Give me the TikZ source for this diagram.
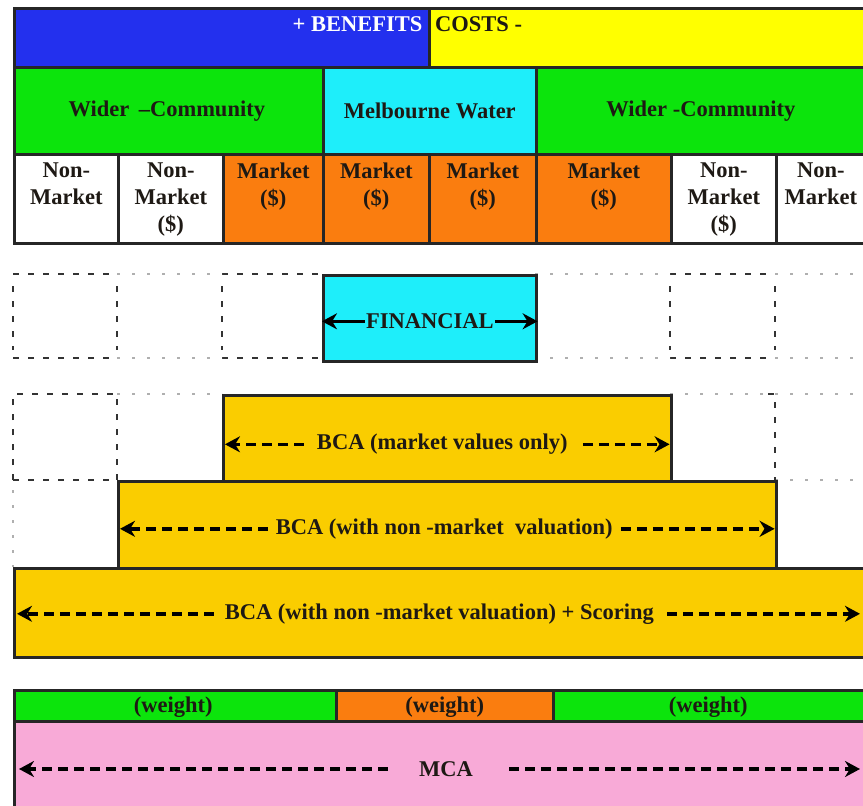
\documentclass[tikz,border=0pt]{standalone}
\usepackage{fontspec}
\setmainfont{Liberation Serif}
\usetikzlibrary{arrows.meta}
\definecolor{cblue}{RGB}{35,48,238}
\definecolor{cyellow}{RGB}{255,255,0}
\definecolor{cgreen}{RGB}{12,228,12}
\definecolor{ccyan}{RGB}{30,238,250}
\definecolor{corange}{RGB}{250,125,15}
\definecolor{cgold}{RGB}{250,205,0}
\definecolor{cpink}{RGB}{248,170,215}
\definecolor{ctext}{RGB}{30,25,20}
\definecolor{clight}{RGB}{175,175,175}
\tikzset{
  box/.style={draw=black!85, line width=2.6pt, inner sep=0pt, anchor=north west},
  lbl/.style={font=\bfseries\fontsize{22.5}{27}\selectfont, text=ctext, inner sep=1pt, align=center},
  darkdash/.style={draw=black!80, line width=2.4pt, dash pattern=on 6pt off 9pt},
  lightdash/.style={draw=clight, line width=2.2pt, dash pattern=on 3pt off 12pt},
  arr/.style={draw=black, line width=3.6pt, dash pattern=on 10pt off 6pt, -{Stealth[length=15pt,width=16pt]}},
  sarr/.style={draw=black, line width=3.6pt, -{Stealth[length=15pt,width=16pt]}},
}
\newcommand{\bx}[6]{\node[box, fill=#2, minimum width=#5pt-#3pt, minimum height=#6pt] (#1) at (#3,#4) {};}
\begin{document}
\begin{tikzpicture}[x=1pt,y=-1pt]
\useasboundingbox (0,0) rectangle (863,806);
\clip (0,0) rectangle (863,806);
\fill[white] (0,0) rectangle (863,806);
% row 1
\bx{benefits}{cblue}{13}{7}{428}{59}
\bx{costs}{cyellow}{428}{7}{870}{59}
\node[lbl, text=white, anchor=north east] (tben) at ([xshift=-7pt,yshift=-8pt]benefits.north east) {+ BENEFITS};
\node[lbl, anchor=north west] (tcost) at ([xshift=6pt,yshift=-8pt]costs.north west) {COSTS -};
% row 2
\bx{wc1}{cgreen}{13}{66}{322}{87}
\bx{mw}{ccyan}{322}{66}{535}{87}
\bx{wc2}{cgreen}{535}{66}{870}{87}
\node[lbl] (twc1) at ([xshift=-2pt]wc1) {Wider \,--Community};
\node[lbl] (tmw) at (mw) {Melbourne Water};
\node[lbl] (twc2) at ([xshift=-3pt]wc2) {Wider -Community};
% row 3
\bx{c1}{white}{13}{153}{117}{89}
\bx{c2}{white}{117}{153}{222}{89}
\bx{c3}{corange}{222}{153}{322}{89}
\bx{c4}{corange}{322}{153}{428}{89}
\bx{c5}{corange}{428}{153}{535}{89}
\bx{c6}{corange}{535}{153}{670}{89}
\bx{c7}{white}{670}{153}{775}{89}
\bx{c8}{white}{775}{153}{870}{89}
\node[lbl, anchor=north] (t1) at ([yshift=-9pt]c1.north) {Non-\\Market};
\node[lbl, anchor=north] (t2) at ([yshift=-9pt]c2.north) {Non-\\Market\\(\$)};
\node[lbl, anchor=north] (t3) at ([yshift=-9pt]c3.north) {Market\\(\$)};
\node[lbl, anchor=north] (t4) at ([yshift=-9pt]c4.north) {Market\\(\$)};
\node[lbl, anchor=north] (t5) at ([yshift=-9pt]c5.north) {Market\\(\$)};
\node[lbl, anchor=north] (t6) at ([yshift=-9pt]c6.north) {Market\\(\$)};
\node[lbl, anchor=north] (t7) at ([yshift=-9pt]c7.north) {Non-\\Market\\(\$)};
\node[lbl, anchor=north] (t8) at ([yshift=-9pt,xshift=-3pt]c8.north) {Non-\\Market};
% financial row guides
\draw[darkdash] (13,274) -- (117,274) (222,274) -- (322,274) (670,274) -- (775,274);
\draw[darkdash] (13,358) -- (117,358) (222,358) -- (322,358) (670,358) -- (775,358);
\draw[lightdash] (117,274) -- (222,274) (535,274) -- (670,274) (775,274) -- (863,274);
\draw[lightdash] (117,358) -- (222,358) (535,358) -- (670,358) (775,358) -- (863,358);
\draw[darkdash] (13,286) -- (13,350) (117,286) -- (117,350) (222,286) -- (222,350) (670,286) -- (670,350) (775,286) -- (775,350);
\bx{fin}{ccyan}{322}{274}{535}{86}
\node[lbl] (tfin) at ([yshift=-3pt]fin) {FINANCIAL};
\draw[sarr] (tfin.west) -- (fin.west |- tfin.west);
\draw[sarr] (tfin.east) -- (fin.east |- tfin.east);
% BCA market row guides
\draw[darkdash] (13,480) -- (13,394) -- (117,394) -- (117,480);
\draw[darkdash] (13,480) -- (117,480);
\draw[lightdash] (117,394) -- (222,394) (670,394) -- (775,394) (775,394) -- (863,394) (775,480) -- (863,480);
\draw[darkdash] (768,394) -- (775,394) -- (775,480);
\draw[lightdash] (13,490) -- (13,567);
% BCA boxes
\bx{bcam}{cgold}{222}{394}{670}{86}
\node[lbl] (tbcam) at ([xshift=-5pt,yshift=-6pt]bcam) {BCA (market values only)};
\draw[arr] ([xshift=-12pt]tbcam.west) -- ([xshift=3pt]bcam.west |- tbcam.west);
\draw[arr] ([xshift=14pt]tbcam.east) -- ([xshift=-3pt]bcam.east |- tbcam.east);
\bx{bcan}{cgold}{117}{480}{775}{87}
\node[lbl] (tbcan) at ([xshift=-3pt,yshift=-4pt]bcan) {BCA (with non -market \ valuation)};
\draw[arr] ([xshift=-7pt]tbcan.west) -- ([xshift=3pt]bcan.west |- tbcan.west);
\draw[arr] ([xshift=7pt]tbcan.east) -- ([xshift=-3pt]bcan.east |- tbcan.east);
\bx{bcas}{cgold}{13}{567}{870}{89}
\node[lbl] (tbcas) at ([xshift=-8pt,yshift=-1pt]bcas.center -| bcan.center) {BCA (with non -market valuation) + Scoring};
\coordinate (sr) at (860,0);
\draw[arr] ([xshift=-10pt]tbcas.west) -- ([xshift=4pt]bcas.west |- tbcas.west);
\draw[arr] ([xshift=12pt]tbcas.east) -- (sr |- tbcas.east);
% weights and MCA
\bx{w1}{cgreen}{13}{689}{335}{31}
\bx{w2}{corange}{335}{689}{552}{31}
\bx{w3}{cgreen}{552}{689}{870}{31}
\node[lbl] (tw1) at ([xshift=-2pt,yshift=-1pt]w1) {(weight)};
\node[lbl] (tw2) at ([yshift=-1pt]w2) {(weight)};
\node[lbl] (tw3) at ([xshift=-4pt,yshift=-1pt]w3) {(weight)};
\bx{mca}{cpink}{13}{720}{870}{92}
\node[lbl] (tmca) at (446,769) {MCA};
\draw[arr] ([xshift=-30pt]tmca.west) -- ([xshift=6pt]mca.west |- tmca.west);
\draw[arr] ([xshift=35pt]tmca.east) -- (sr |- tmca.east);
\end{tikzpicture}
\end{document}
